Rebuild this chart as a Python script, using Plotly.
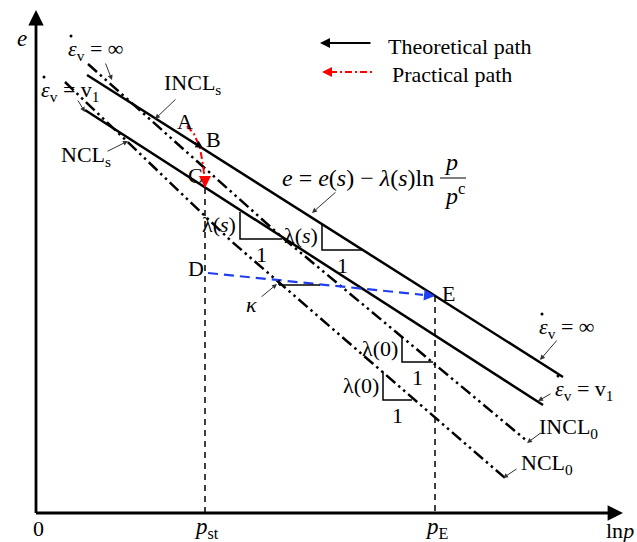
import plotly.graph_objects as go

# ---- schematic geometry (pixel-like data units; y axis reversed) ----
axis_origin = (36, 513)
axis_x_end = 623
axis_y_end = 10

# solid compression lines (strain-rate isotaches): x0, y0, x1, y1
solid_x0 = [87, 85]
solid_y0 = [75, 110]
solid_x1 = [563, 543]
solid_y1 = [377, 405]

# dash-dot lines (INCL and NCL), gently bending polylines
incl_x = [88, 283, 527]
incl_y = [64, 238, 441]
ncl_x = [65, 230, 505]
ncl_y = [82, 240, 478]

# key points
pt_A = (187, 126)
pt_B = (203, 148)
pt_C = (205, 188)
pt_D = (208, 273)
pt_E = (435, 296)

# practical path (A -> C), curved
red_x = [187, 194, 200, 203, 205]
red_y = [126, 134, 148, 165, 182]

# slope triangles: x_left, y_top, x_right, y_bottom
tri_x0 = [240, 322, 402, 383]
tri_y0 = [212, 223, 336, 372]
tri_x1 = [282, 363, 433, 412]
tri_y1 = [239, 250, 362, 400]
tri_lab = ["λ(<i>s</i>)", "λ(<i>s</i>)", "λ(0)", "λ(0)"]

FONT = "Liberation Serif"
FS = 22
fig = go.Figure()

def seg(xs, ys, color="black", width=2.5, dash="solid"):
    fig.add_trace(go.Scatter(x=xs, y=ys, mode="lines",
                             line=dict(color=color, width=width, dash=dash),
                             hoverinfo="skip", showlegend=False))

def arrow(x, y, ax, ay, color="#333", width=1, head=2, size=1.0):
    fig.add_annotation(x=x, y=y, ax=ax, ay=ay, xref="x", yref="y",
                       axref="x", ayref="y", text="", showarrow=True,
                       arrowhead=head, arrowsize=size, arrowwidth=width,
                       arrowcolor=color)

def label(x, y, text, size=FS, anchor="center", color="black"):
    fig.add_annotation(x=x, y=y, xref="x", yref="y", text=text,
                       showarrow=False, xanchor=anchor, yanchor="middle",
                       font=dict(family=FONT, size=size, color=color))

dd = "12px,4px,2.5px,4px,2.5px,4px"

# main lines
for i in range(len(solid_x0)):
    seg([solid_x0[i], solid_x1[i]], [solid_y0[i], solid_y1[i]], width=2.5)
seg(incl_x, incl_y, width=2.5, dash=dd)
seg(ncl_x, ncl_y, width=2.5, dash=dd)

# axes
ox, oy = axis_origin
seg([ox, axis_x_end - 15], [oy, oy], width=2.8)
seg([ox, ox], [oy, axis_y_end + 15], width=2.8)
arrow(axis_x_end, oy, axis_x_end - 14, oy, color="black", width=2.8, head=2, size=1.1)
arrow(ox, axis_y_end, ox, axis_y_end + 14, color="black", width=2.8, head=2, size=1.1)

# dashed verticals
seg([pt_C[0], pt_C[0]], [pt_C[1], oy], width=1.5, dash="6px,5px")
seg([pt_E[0], pt_E[0]], [pt_E[1], oy], width=1.5, dash="6px,5px")

# blue unloading path D -> E
seg([pt_D[0], pt_E[0] - 12], [pt_D[1], pt_E[1] - 1.2], color="#1f3ff0", width=2.2, dash="10px,6px")
arrow(pt_E[0], pt_E[1], pt_E[0] - 12, pt_E[1] - 1.2, color="#1f3ff0", width=2.2, head=2, size=1.0)

# kappa indicator
seg([279, 320], [285, 285], width=1.5)
seg([279, 279], [280, 285], width=1.5)

# red practical path
seg(red_x, red_y, color="red", width=2, dash="7px,3px,2px,3px")
arrow(pt_C[0], pt_C[1], red_x[-1], red_y[-1] - 4, color="red", width=2, head=2, size=1.2)

# theoretical arrow tip at B
arrow(pt_B[0], pt_B[1], pt_B[0] - 10, pt_B[1] - 6.3, color="black", width=1.5, head=2, size=1.0)

# slope triangles
for i in range(4):
    seg([tri_x0[i], tri_x0[i], tri_x1[i]], [tri_y0[i], tri_y1[i], tri_y1[i]], width=1.5)
    label(tri_x0[i] - 2, (tri_y0[i] + tri_y1[i]) / 2 - 1, tri_lab[i], anchor="right")
    label((tri_x0[i] + tri_x1[i]) / 2, tri_y1[i] + 15, "1")

# legend
arrow(320, 43, 372, 43, color="black", width=2, head=2, size=1.0)
seg([330, 372], [72, 72], color="red", width=2, dash="7px,3px,2px,3px")
arrow(322, 72, 332, 72, color="red", width=2, head=2, size=1.0)
label(386, 46, "Theoretical path", anchor="left")
label(390, 74, "Practical path", anchor="left")

# point labels
label(185, 121, "A")
label(213, 139, "B")
label(195, 175, "C")
label(196, 268, "D")
label(448, 293, "E")
label(251, 304, "<i>κ</i>")
arrow(277, 284, 260, 298, width=1)

# axis labels
label(22, 38, "<i>e</i>", size=23)
label(38, 528, "0")
label(206, 528, "<i>p</i><sub>st</sub>", size=23)
label(437, 528, "<i>p</i><sub>E</sub>", size=23)
label(620, 530, "ln<i>p</i>")

# strain-rate labels (epsilon with dot above)
ev_x = [66, 39, 537, 553]
ev_y = [50, 91, 328, 390]
ev_t = ["∞", "v<sub>1</sub>", "∞", "v<sub>1</sub>"]
for x, y, t in zip(ev_x, ev_y, ev_t):
    label(x, y, "<i>ε</i><sub>v</sub> = " + t, anchor="left")
fig.add_trace(go.Scatter(x=[x + 5 for x in ev_x], y=[y - 14 for y in ev_y], mode="markers",
                         marker=dict(color="black", size=3), hoverinfo="skip", showlegend=False))

arrow(112, 80, 105, 62)
arrow(85, 112, 77, 99)
arrow(540, 360, 558, 339)
arrow(538, 401, 552, 393)

# line name labels
label(192, 84, "INCL<sub>s</sub>")
arrow(155, 119, 177, 98)
label(86, 156, "NCL<sub>s</sub>")
arrow(128, 141, 106, 152)
label(568, 428, "INCL<sub>0</sub>")
arrow(527, 443, 542, 432)
label(547, 464, "NCL<sub>0</sub>")
arrow(503, 478, 518, 468)

# formula
label(436, 178, "<i>e</i> = <i>e</i>(<i>s</i>) − <i>λ</i>(<i>s</i>)ln", size=24, anchor="right")
label(451, 162, "<i>p</i>", size=24)
label(454, 194, "<i>p</i><sup>c</sup>", size=24)
seg([440, 466], [178, 178], width=1)
arrow(312, 213, 337, 191)

fig.update_layout(
    width=637, height=542,
    margin=dict(l=0, r=0, t=0, b=0),
    paper_bgcolor="white", plot_bgcolor="white",
    xaxis=dict(range=[0, 637], visible=False, fixedrange=True),
    yaxis=dict(range=[542, 0], visible=False, fixedrange=True),
    showlegend=False,
)
fig.write_html("out.html")
